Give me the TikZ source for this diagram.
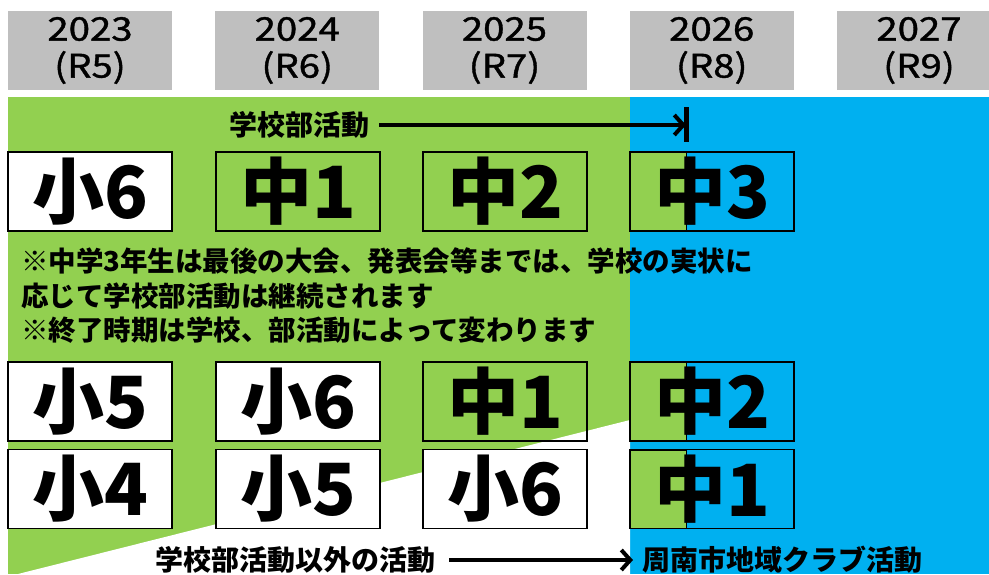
\documentclass[tikz,border=0pt]{standalone}
\usepackage{fontspec}
\usetikzlibrary{arrows.meta}
\newfontfamily\jpfont{Noto Sans CJK JP}
\newfontfamily\yearfont{Noto Sans CJK JP}[FakeStretch=1.18,FakeBold=1.2]
\definecolor{clubgreen}{HTML}{92D050}
\definecolor{clubblue}{HTML}{00B0F0}
\definecolor{yeargray}{HTML}{BFBFBF}
\begin{document}
\begin{tikzpicture}[x=1pt,y=-1pt,
		year/.style={fill=yeargray,minimum width=164pt,minimum height=79pt,inner sep=0pt,align=center,font=\yearfont\fontsize{32.5}{37}\selectfont},
		grade/.style={draw=black,line width=1.2pt,minimum width=164pt,minimum height=79pt,inner sep=0pt,font=\jpfont\bfseries\fontsize{72}{72}\selectfont},
		label/.style={inner sep=0pt,font=\jpfont\bfseries\fontsize{28}{28}\selectfont},
		flow/.style={line width=4pt,-{Straight Barb[length=9pt,width=20pt]}}]
			\useasboundingbox (0,0) rectangle (989,574);
			\fill[clubgreen] (8,97) rectangle (630,574);
			\fill[clubblue] (630,97) rectangle (989,574);
			\fill[white] (630,420) -- (630,574) -- (18,574) -- cycle;
			\filldraw[fill=clubgreen,line width=0.8pt] (630,152) rectangle (686,231);
			\filldraw[fill=clubgreen,line width=0.8pt] (630,362) rectangle (686,441);
			\filldraw[fill=clubgreen,line width=0.8pt] (630,450) rectangle (686,528);
			\foreach \yr/\rw [count=\i] in {2023/5,2024/6,2025/7,2026/8,2027/9}
				\node[year] (y\i) at ({90+207.25*(\i-1)},50.5) {\yr\\(R\rw)};
			\node[grade,fill=white] (a1) at (90,191.5) {小6};
			\node[grade] (a2) at (298,191.5) {中1};
			\node[grade] (a3) at (505,191.5) {中2};
			\node[grade] (a4) at (712,191.5) {中3};
			\node[grade,fill=white] (b1) at (90,401.5) {小5};
			\node[grade,fill=white] (b2) at (298,401.5) {小6};
			\node[grade] (b3) at (505,401.5) {中1};
			\node[grade] (b4) at (712,401.5) {中2};
			\node[grade,fill=white] (c1) at (90,489) {小4};
			\node[grade,fill=white] (c2) at (298,489) {小5};
			\node[grade,fill=white] (c3) at (505,489) {小6};
			\node[grade] (c4) at (712,489) {中1};
			\node[label] (club) at (299,125) {学校部活動};
			\coordinate (clubend) at (686,125);
			\draw[flow,shorten <=10pt] (club) -- (clubend);
			\draw[line width=5pt] (686,107) -- (686,142);
			\node[label,anchor=north west,align=left,font=\jpfont\bfseries\fontsize{27.5}{34.5}\selectfont] (note) at (21,248) {※中学3年生は最後の大会、発表会等までは、学校の実状に\\応じて学校部活動は継続されます\\※終了時期は学校、部活動によって変わります};
			\node[label] (other) at (295,560) {学校部活動以外の活動};
			\node[label,anchor=west] (local) at (642,560) {周南市地域クラブ活動};
			\draw[flow,shorten <=14pt,shorten >=9pt] (other) -- (local);
\end{tikzpicture}
\end{document}
